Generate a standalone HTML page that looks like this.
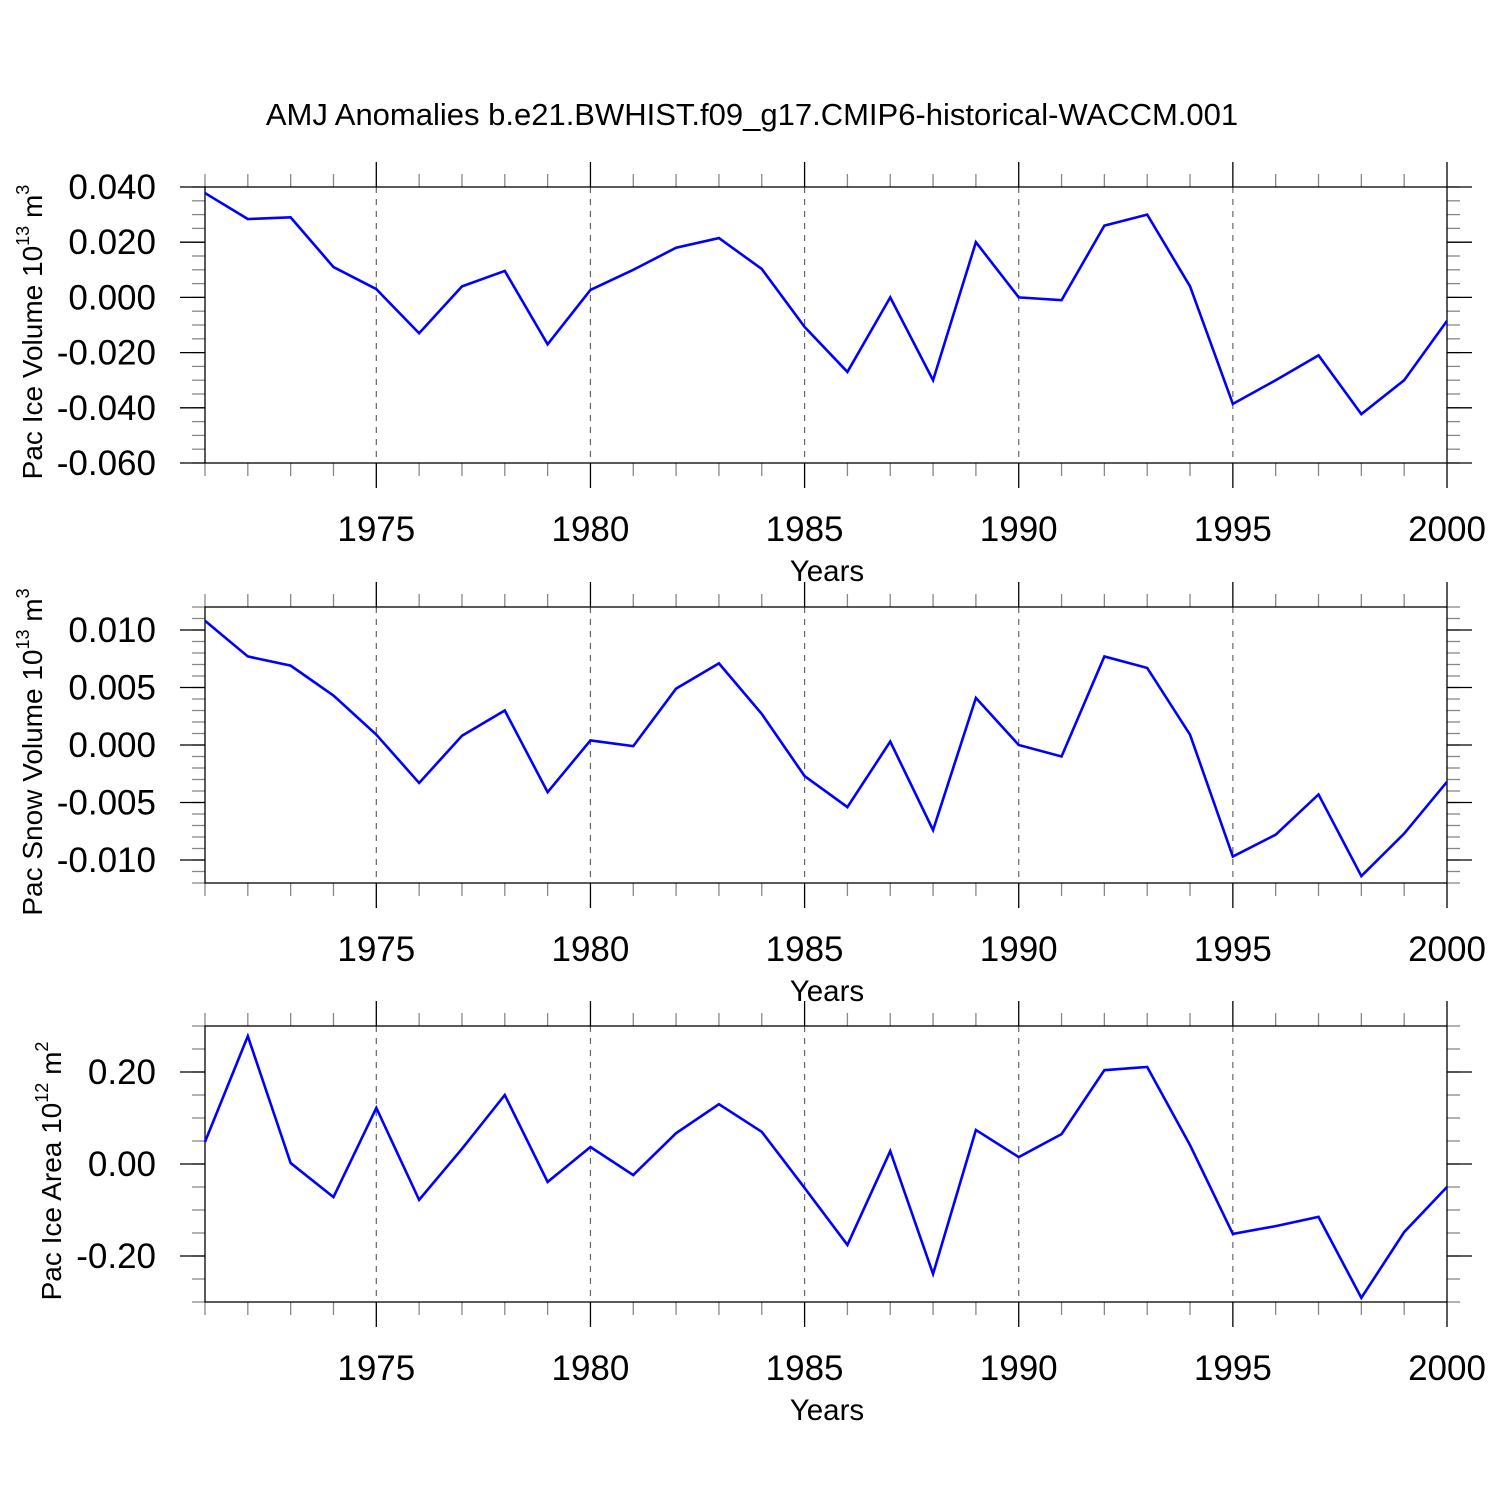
<!DOCTYPE html>
<html><head><meta charset="utf-8"><style>
html,body{margin:0;padding:0;background:#fff}
svg{display:block;font-family:"Liberation Sans",Arial,sans-serif}
</style></head><body>
<svg id="chart" width="1500" height="1500" xmlns="http://www.w3.org/2000/svg">
<text x="752" y="125" font-size="31" text-anchor="middle">AMJ Anomalies b.e21.BWHIST.f09_g17.CMIP6-historical-WACCM.001</text>
</svg>
<script>
const years = [1971,1972,1973,1974,1975,1976,1977,1978,1979,1980,1981,1982,1983,1984,1985,1986,1987,1988,1989,1990,1991,1992,1993,1994,1995,1996,1997,1998,1999,2000];
const iceVolume = [0.0378,0.0284,0.029,0.011,0.003,-0.013,0.004,0.0096,-0.017,0.0027,0.010,0.018,0.0215,0.0103,-0.0107,-0.027,0.000,-0.030,0.020,0.000,-0.001,0.026,0.030,0.004,-0.0386,-0.030,-0.021,-0.0423,-0.030,-0.0085];
const snowVolume = [0.0108,0.0077,0.0069,0.0043,0.0009,-0.0033,0.0008,0.003,-0.0041,0.0004,-0.0001,0.0049,0.0071,0.0027,-0.0027,-0.0054,0.0003,-0.0074,0.0041,0.0,-0.001,0.0077,0.0067,0.0009,-0.0097,-0.0078,-0.0043,-0.0114,-0.0077,-0.0032];
const iceArea = [0.048,0.278,0.002,-0.072,0.122,-0.078,0.033,0.15,-0.039,0.037,-0.024,0.067,0.13,0.07,-0.052,-0.176,0.028,-0.239,0.074,0.015,0.065,0.204,0.211,0.041,-0.152,-0.135,-0.115,-0.291,-0.148,-0.05];
const xTickLabels = ["1975","1980","1985","1990","1995","2000"];
const iceTicks = ["0.040","0.020","0.000","-0.020","-0.040","-0.060"];
const snowTicks = ["0.010","0.005","0.000","-0.005","-0.010"];
const areaTicks = ["0.20","0.00","-0.20"];

const NS="http://www.w3.org/2000/svg";
const svg=document.getElementById('chart');
function mk(tag,attrs,parent){const e=document.createElementNS(NS,tag);for(const k in attrs)e.setAttribute(k,attrs[k]);(parent||svg).appendChild(e);return e;}
const X0=205,X1=1447;
const xs=y=>X0+(y-1971)*(X1-X0)/29;

function panel(cfg){
  const g=mk('g',{});
  
  
  const ys=v=>cfg.top+(cfg.ymax-v)*(cfg.bot-cfg.top)/(cfg.ymax-cfg.ymin);
  for(let yr=1975;yr<2000;yr+=5){
    const l=mk('line',{x1:xs(yr),x2:xs(yr),y1:cfg.top,y2:cfg.bot,stroke:'#666','stroke-width':1.2,'stroke-dasharray':'6,6'},g);
    
    
  }
  for(let yr=1971;yr<=2000;yr++){
    const maj=yr%5===0, L=maj?25:13, c=maj?'#000':'#888';
    mk('line',{x1:xs(yr),x2:xs(yr),y1:cfg.top,y2:cfg.top-L,stroke:c,'stroke-width':1.3},g);
    mk('line',{x1:xs(yr),x2:xs(yr),y1:cfg.bot,y2:cfg.bot+L,stroke:c,'stroke-width':1.3},g);
  }
  const n=Math.round((cfg.ymax-cfg.ymin)/cfg.minor);
  for(let i=0;i<=n;i++){
    const v=cfg.ymin+i*cfg.minor;const y=ys(v);
    mk('line',{x1:X0,x2:X0-13,y1:y,y2:y,stroke:'#888','stroke-width':1.3},g);
    mk('line',{x1:X1,x2:X1+13,y1:y,y2:y,stroke:'#888','stroke-width':1.3},g);
  }
  cfg.ticks.forEach(t=>{
    const y=ys(parseFloat(t));
    mk('line',{x1:X0,x2:X0-25,y1:y,y2:y,stroke:'#000','stroke-width':1.3},g);
    mk('line',{x1:X1,x2:X1+25,y1:y,y2:y,stroke:'#000','stroke-width':1.3},g);
    const tx=mk('text',{x:156,y:y+12,'font-size':35,'text-anchor':'end'},g);
    
    
    tx.textContent=t;
  });
  const fr=mk('rect',{x:X0,y:cfg.top,width:X1-X0,height:cfg.bot-cfg.top,fill:'none',stroke:'#000','stroke-width':1.3},g);
  
  
  xTickLabels.forEach(t=>{
    const tx=mk('text',{x:xs(+t),y:cfg.bot+78,'font-size':35,'text-anchor':'middle'},g);
    
    
    tx.textContent=t;
  });
  const xt=mk('text',{x:827,y:cfg.bot+118,'font-size':29.5,'text-anchor':'middle'},g);
  
  
  xt.textContent='Years';
  const cy=(cfg.top+cfg.bot)/2+7;
  const yt=mk('text',{x:0,y:0,'font-size':28,'text-anchor':'middle',transform:`translate(${cfg.tx},${cy}) rotate(-90)`},g);
  
  
  yt.innerHTML=cfg.title;
  const pts=cfg.data.map((v,i)=>xs(years[i])+','+ys(v)).join(' ');
  const pl=mk('polyline',{points:pts,fill:'none',stroke:'#0000ff','stroke-width':2.6,'stroke-linejoin':'miter'},g);
  
  
}
panel({name:'ice-volume-panel',top:187,bot:463,ymax:0.04,ymin:-0.06,minor:0.005,ticks:iceTicks,data:iceVolume,tx:42,
  title:'Pac Ice Volume 10<tspan font-size="18" dy="-13">13</tspan><tspan dy="13"> m</tspan><tspan font-size="18" dy="-13">3</tspan>'});
panel({name:'snow-volume-panel',top:607,bot:883,ymax:0.012,ymin:-0.012,minor:0.001,ticks:snowTicks,data:snowVolume,tx:42,
  title:'Pac Snow Volume 10<tspan font-size="18" dy="-13">13</tspan><tspan dy="13"> m</tspan><tspan font-size="18" dy="-13">3</tspan>'});
panel({name:'ice-area-panel',top:1026,bot:1302,ymax:0.3,ymin:-0.3,minor:0.05,ticks:areaTicks,data:iceArea,tx:61,
  title:'Pac Ice Area 10<tspan font-size="18" dy="-13">12</tspan><tspan dy="13"> m</tspan><tspan font-size="18" dy="-13">2</tspan>'});
</script>
</body></html>
